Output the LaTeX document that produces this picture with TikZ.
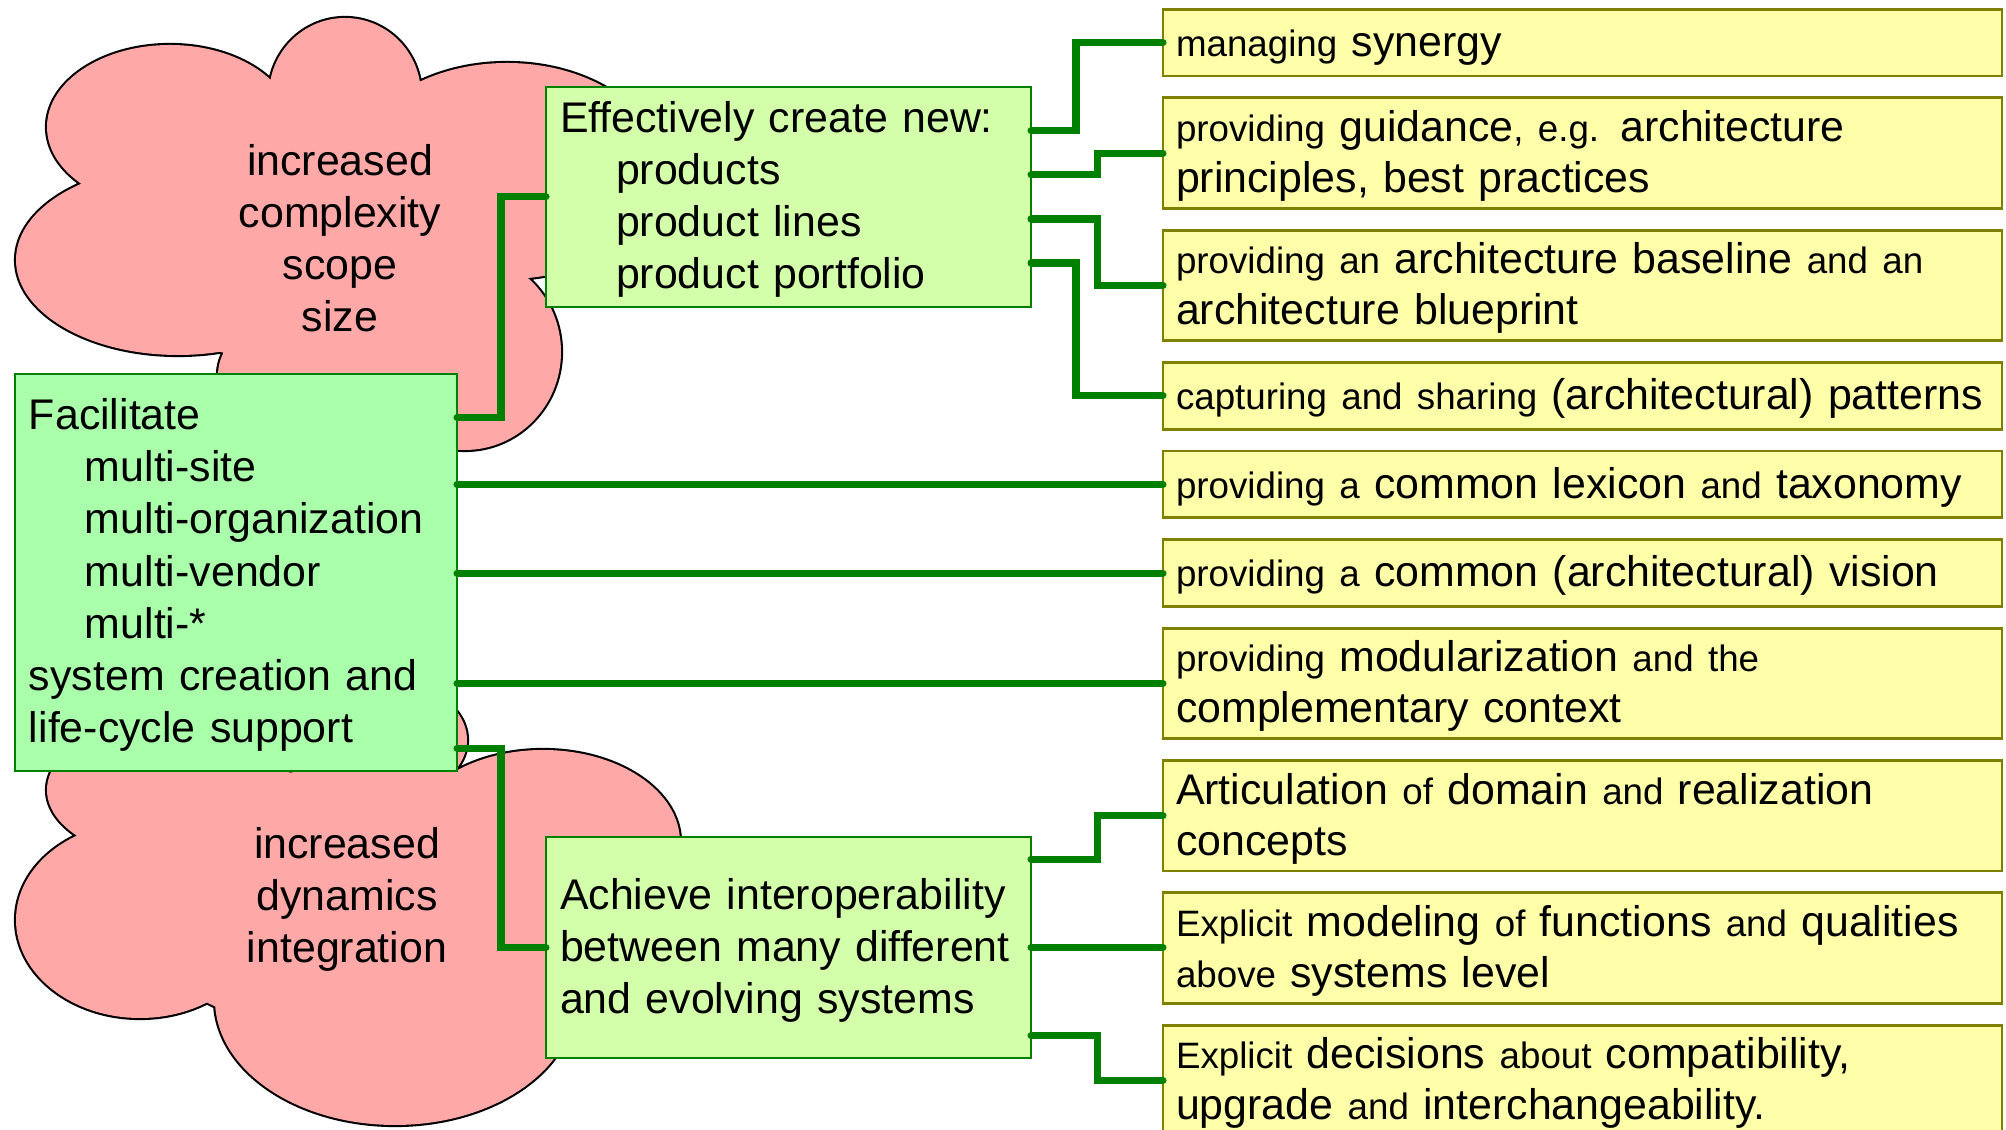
\documentclass[tikz,border=0pt]{standalone}
\usepackage{fontspec}
\setmainfont{Liberation Sans}
\usetikzlibrary{positioning,calc}

\definecolor{cloudpink}{RGB}{255,168,168}
\definecolor{mintgreen}{RGB}{170,255,170}
\definecolor{limegreen}{RGB}{212,255,170}
\definecolor{paleyellow}{RGB}{255,255,170}
\definecolor{linkgreen}{RGB}{0,128,0}
\definecolor{boxolive}{RGB}{128,128,0}

\newcommand{\bigtext}{\fontsize{12.2pt}{14.8pt}\selectfont}
\newcommand{\listtext}{\fontsize{12.2pt}{14.5pt}\selectfont}
\newcommand{\lite}[1]{{\fontsize{10.45pt}{14.5pt}\selectfont #1}}
\newcommand{\ind}{\hspace*{0.56cm}}
\newcommand{\boxstrut}[1]{\rule[-#1\baselineskip]{0pt}{\baselineskip}}

% lobes of the two clouds (the last ellipse fills the middle)
\newcommand{\complexitycloud}{
  (1.70,-1.27) ellipse [x radius=1.23, y radius=0.82]
  (3.45,-0.95) ellipse [x radius=0.76, y radius=0.77]
  (5.07,-1.71) ellipse [x radius=1.55, y radius=1.08]
  (4.65,-3.52) ellipse [x radius=0.96, y radius=0.98]
  (3.40,-3.75) ellipse [x radius=1.22, y radius=0.75]
  (1.78,-2.60) ellipse [x radius=1.62, y radius=0.95]
  (2.90,-2.30) ellipse [x radius=2.00, y radius=1.30]}
\newcommand{\dynamicscloud}{
  (1.70,-7.90) ellipse [x radius=1.23, y radius=0.70]
  (3.80,-7.40) ellipse [x radius=0.87, y radius=0.60]
  (5.43,-8.42) ellipse [x radius=1.37, y radius=0.92]
  (6.20,-9.60) ellipse [x radius=0.95, y radius=0.95]
  (3.95,-10.00) ellipse [x radius=1.80, y radius=1.25]
  (1.40,-9.20) ellipse [x radius=1.24, y radius=0.98]
  (3.30,-9.00) ellipse [x radius=2.00, y radius=1.30]}

\begin{document}
\begin{tikzpicture}[
    text strut/.style={execute at begin node={\boxstrut{#1}},
      execute at end node={\boxstrut{#1}}},
    cloud edge/.style={fill=cloudpink, draw=black, line width=1.2pt},
    cloud body/.style={fill=cloudpink},
    cloud text/.style={font=\bigtext, align=center, inner sep=0pt, text strut=0.24},
    goal box/.style={font=\bigtext, align=left, draw=linkgreen, line width=0.6pt,
      inner xsep=0.14cm, inner ysep=0pt, outer sep=0pt, anchor=north west,
      text strut=0.24},
    aspect box/.style={font=\listtext, align=left, fill=paleyellow, draw=boxolive,
      line width=0.8pt, text width=8.13cm, inner xsep=0.13cm, inner ysep=0pt,
      outer sep=0pt, text strut=0.23},
    one line/.style={minimum height=0.667cm},
    two lines/.style={minimum height=1.104cm},
    link/.style={draw=linkgreen, line width=2pt, line cap=round}
  ]
  \useasboundingbox[fill=white] (0,0) rectangle (20.06,-11.30);

  % clouds: stroke every lobe, then fill again to hide the inner edges
  \path[cloud edge] \complexitycloud;
  \path[cloud body] \complexitycloud;
  \path[cloud edge] \dynamicscloud;
  \path[cloud body] \dynamicscloud;

  \node[cloud text] (complexity) at (3.40,-2.44) {increased\\complexity\\scope\\size};
  \node[cloud text] (dynamics) at (3.47,-9.01) {increased\\dynamics\\integration};

  % goals
  \node[goal box, fill=limegreen, text width=4.57cm, minimum height=2.20cm] (create) at (5.46,-0.87)
    {Effectively create new:\\\ind products\\\ind product lines\\\ind product portfolio};
  \node[goal box, fill=mintgreen, text width=4.14cm, minimum height=3.97cm] (facil) at (0.15,-3.74)
    {Facilitate\\\ind multi-site\\\ind multi-organization\\\ind multi-vendor\\\ind multi-*\\system creation and\\life-cycle support};
  \node[goal box, fill=limegreen, text width=4.57cm, minimum height=2.21cm] (achieve) at (5.46,-8.37)
    {Achieve interoperability\\between many different\\and evolving systems};

  % aspects
  \node[aspect box, one line, anchor=north west] (synergy) at (11.63,-0.093)
    {\lite{managing} synergy};
  \node[aspect box, two lines, below=0.219cm of synergy] (guidance)
    {\lite{providing} guidance\lite{, e.g.} architecture\\principles, best practices};
  \node[aspect box, two lines, below=0.219cm of guidance] (baseline)
    {\lite{providing an} architecture baseline \lite{and an}\\architecture blueprint};
  \node[aspect box, one line, below=0.219cm of baseline] (patterns)
    {\lite{capturing and sharing} (architectural) patterns};
  \node[aspect box, one line, below=0.219cm of patterns] (lexicon)
    {\lite{providing a} common lexicon \lite{and} taxonomy};
  \node[aspect box, one line, below=0.219cm of lexicon] (vision)
    {\lite{providing a} common (architectural) vision};
  \node[aspect box, two lines, below=0.219cm of vision] (modular)
    {\lite{providing} modularization \lite{and the}\\complementary context};
  \node[aspect box, two lines, below=0.219cm of modular] (concepts)
    {Articulation \lite{of} domain \lite{and} realization\\concepts};
  \node[aspect box, two lines, below=0.219cm of concepts] (modeling)
    {\lite{Explicit} modeling \lite{of} functions \lite{and} qualities\\\lite{above} systems level};
  \node[aspect box, two lines, below=0.219cm of modeling] (decisions)
    {\lite{Explicit} decisions \lite{about} compatibility,\\upgrade \lite{and} interchangeability.};

  % links
  \draw[link] ($(create.north east)!0.2!(create.south east)$) -- ++(0.45,0) |- (synergy.west);
  \draw[link] ($(create.north east)!0.4!(create.south east)$) -- ++(0.665,0) |- (guidance.west);
  \draw[link] ($(create.north east)!0.6!(create.south east)$) -- ++(0.665,0) |- (baseline.west);
  \draw[link] ($(create.north east)!0.8!(create.south east)$) -- ++(0.45,0) |- (patterns.west);
  \draw[link] ($(facil.north east)!0.11!(facil.south east)$) -- ++(0.44,0) |- (create.west);
  \draw[link] (facil.east |- lexicon.west) -- (lexicon.west);
  \draw[link] (facil.east |- vision.west) -- (vision.west);
  \draw[link] (facil.east |- modular.west) -- (modular.west);
  \draw[link] ($(facil.north east)!0.943!(facil.south east)$) -- ++(0.44,0) |- (achieve.west);
  \draw[link] ($(achieve.north east)!0.1!(achieve.south east)$) -- ++(0.665,0) |- (concepts.west);
  \draw[link] (achieve.east) -- (achieve.east -| modeling.west);
  \draw[link] ($(achieve.north east)!0.9!(achieve.south east)$) -- ++(0.665,0) |- (decisions.west);
\end{tikzpicture}
\end{document}
